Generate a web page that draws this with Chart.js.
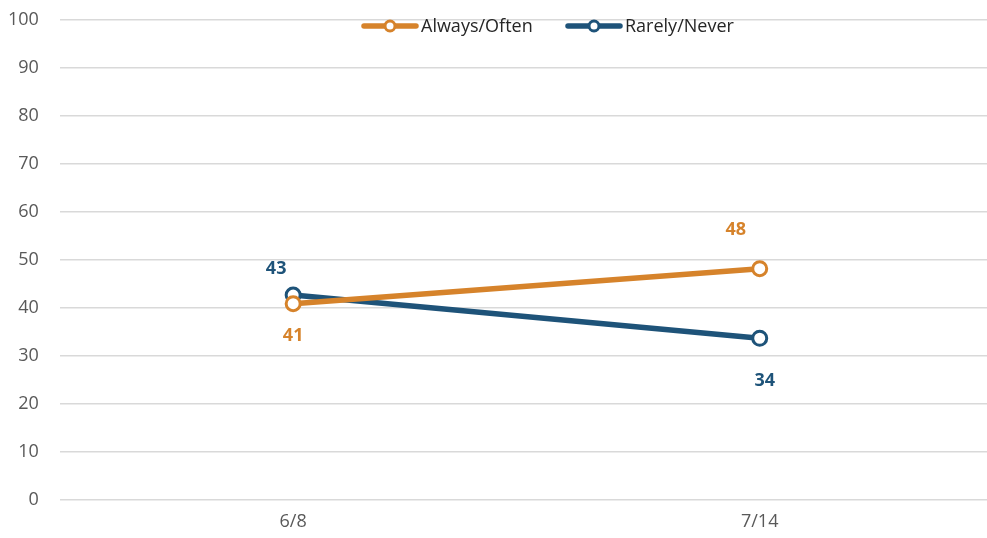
<!DOCTYPE html>
<html><head><meta charset="utf-8">
<script src="https://cdn.jsdelivr.net/npm/chart.js@4/dist/chart.umd.min.js"></script>
<style>html,body{margin:0;padding:0;overflow:hidden;background:#fff}#wrap{width:1003px;height:550px;margin-top:-12px}</style>
</head><body><div id="wrap"><canvas id="c" width="1003" height="550"></canvas></div>
<script>
const categories = ["6/8", "7/14"];
const alwaysOften = [40.8, 48.1];
const rarelyNever = [42.6, 33.6];
const seriesNames = ["Always/Often", "Rarely/Never"];
const yTicks = [0, 10, 20, 30, 40, 50, 60, 70, 80, 90, 100];

const ORANGE = "#D6832B", BLUE = "#1E5379";
const FONT = "'Open Sans', 'Noto Sans', sans-serif";
// per-point label offsets [dx, dy]
const labelOffsets = [
  [[0, 32], [-24, -39]],
  [[-17, -26], [5, 43]]
];

const dataLabels = {
  id: 'dataLabels',
  afterDatasetsDraw(chart) {
    const ctx = chart.ctx;
    ctx.save();
    ctx.font = "bold 18px " + FONT;
    ctx.textAlign = 'center';
    ctx.textBaseline = 'middle';
    chart.data.datasets.forEach((ds, i) => {
      const meta = chart.getDatasetMeta(i);
      meta.data.forEach((pt, j) => {
        const off = labelOffsets[i][j];
        ctx.fillStyle = ds.borderColor;
        ctx.fillText(String(Math.round(ds.data[j])), pt.x + off[0], pt.y + off[1]);
      });
    });
    ctx.restore();
  }
};

const customLegend = {
  id: 'customLegend',
  afterDraw(chart) {
    const ctx = chart.ctx;
    ctx.save();
    const items = chart.data.datasets.map(d => ({ text: d.label, color: d.borderColor }));
    const y = 26 + 12;
    const starts = [362, 566];
    ctx.font = "18px " + FONT;
    ctx.textBaseline = 'middle';
    items.forEach((it, k) => {
      const x0 = starts[k];
      ctx.strokeStyle = it.color;
      ctx.lineWidth = 5.5;
      ctx.lineCap = 'round';
      ctx.beginPath(); ctx.moveTo(x0 + 2, y); ctx.lineTo(x0 + 54, y); ctx.stroke();
      ctx.beginPath(); ctx.arc(x0 + 28, y, 5, 0, Math.PI * 2);
      ctx.fillStyle = '#fff'; ctx.fill();
      ctx.lineWidth = 3; ctx.stroke();
      ctx.fillStyle = '#262626';
      ctx.textAlign = 'left';
      ctx.fillText(it.text, x0 + 59, y + 1);
    });
    ctx.restore();
  }
};

new Chart(document.getElementById('c'), {
  type: 'line',
  data: {
    labels: categories,
    datasets: [
      { label: seriesNames[0], data: alwaysOften, borderColor: ORANGE, backgroundColor: '#fff',
        borderWidth: 5.5, pointRadius: 7, pointBorderWidth: 3, pointBackgroundColor: '#fff', pointBorderColor: ORANGE, tension: 0 },
      { label: seriesNames[1], data: rarelyNever, borderColor: BLUE, backgroundColor: '#fff',
        borderWidth: 5.5, pointRadius: 7, pointBorderWidth: 3, pointBackgroundColor: '#fff', pointBorderColor: BLUE, tension: 0 }
    ]
  },
  options: {
    responsive: false,
    animation: false,
    devicePixelRatio: 1,
    layout: { padding: { top: 0, left: -13, right: 0, bottom: -7 } },
    plugins: { legend: { display: false }, tooltip: { enabled: false } },
    scales: {
      x: {
        offset: true,
        grid: { display: false, drawTicks: false },
        border: { display: false },
        ticks: { color: '#595959', font: { family: FONT, size: 18 }, padding: 12 }
      },
      y: {
        min: 0, max: 100,
        afterBuildTicks(axis) { axis.ticks = yTicks.map(v => ({ value: v })); },
        grid: { color: '#d9d9d9', lineWidth: 1.5, drawTicks: false },
        border: { display: false },
        ticks: { color: '#595959', font: { family: FONT, size: 18 }, padding: 21 }
      }
    }
  },
  plugins: [dataLabels, customLegend]
});
</script></body></html>
